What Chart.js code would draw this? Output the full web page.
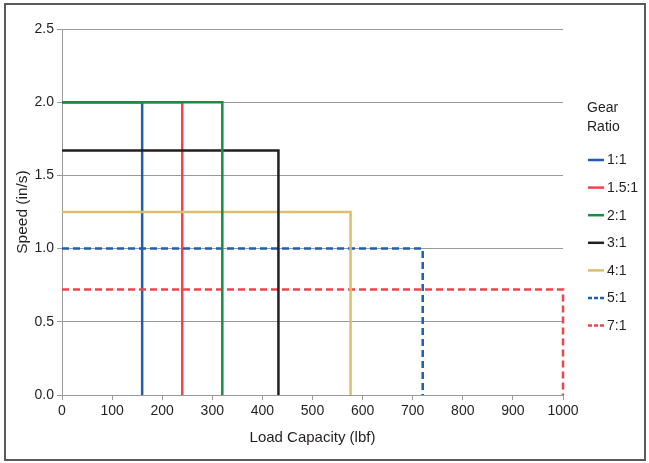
<!DOCTYPE html>
<html>
<head>
<meta charset="utf-8">
<script src="https://cdn.jsdelivr.net/npm/chart.js@4/dist/chart.umd.min.js"></script>
<style>
  html, body { margin: 0; padding: 0; background: #fff; }
  #wrap { position: relative; width: 649px; height: 463px; }
  #frame { position: absolute; left: 4px; top: 3px; width: 638px; height: 454px; border: 2px solid #5a5a5a; pointer-events: none; }
  canvas { position: absolute; left: 0; top: 0; }
</style>
</head>
<body>
<div id="wrap">
  <canvas id="c" width="649" height="463"></canvas>
  <div id="frame"></div>
</div>
<script>
// ---- data ----
const gearRatios = ['1:1', '1.5:1', '2:1', '3:1', '4:1', '5:1', '7:1'];
const maxLoad    = [160, 240, 320, 432, 576, 720, 1000];   // lbf
const maxSpeed   = [2.0, 2.0, 2.0, 1.67, 1.25, 1.0, 0.72]; // in/s
const xTicks     = [0, 100, 200, 300, 400, 500, 600, 700, 800, 900, 1000];
const yTicks     = [0.0, 0.5, 1.0, 1.5, 2.0, 2.5];

// ---- styles ----
const colors  = ['#1f5fae', '#f2434d', '#1b8b46', '#231f20', '#dcbf6c', '#1f5fae', '#f2434d'];
const dashed  = [false, false, false, false, false, true, true];
const orders  = [2, 1, 0, 0, 0, 0, 0];
const FONT = '"Liberation Sans", Arial, sans-serif';

const datasets = gearRatios.map((label, i) => ({
  label,
  data: [
    { x: 0, y: maxSpeed[i] },
    { x: maxLoad[i], y: maxSpeed[i] },
    { x: maxLoad[i], y: 0 }
  ],
  borderColor: colors[i],
  backgroundColor: colors[i],
  borderWidth: 2.5,
  borderDash: dashed[i] ? [7, 4] : [],
  borderJoinStyle: 'miter',
  borderCapStyle: 'butt',
  pointRadius: 0,
  fill: false,
  tension: 0,
  clip: false,
  order: orders[i]
}));

const legendPlugin = {
  id: 'sideLegend',
  afterDraw(chart) {
    const ctx = chart.ctx;
    const x0 = chart.chartArea.right + 25;
    ctx.save();
    ctx.font = '14px ' + FONT;
    ctx.fillStyle = '#231f20';
    ctx.textBaseline = 'middle';
    ctx.textAlign = 'left';
    ctx.fillText('Gear', x0 - 1, 108);
    ctx.fillText('Ratio', x0 - 1, 127);
    chart.data.datasets.forEach((ds, i) => {
      const y = 160 + i * 27.6;
      ctx.beginPath();
      ctx.strokeStyle = ds.borderColor;
      ctx.lineWidth = 2.5;
      ctx.setLineDash(ds.borderDash && ds.borderDash.length ? [4, 2] : []);
      ctx.moveTo(x0, y);
      ctx.lineTo(x0 + 16, y);
      ctx.stroke();
      ctx.setLineDash([]);
      ctx.fillText(ds.label, x0 + 19, y + 0.5);
    });
    ctx.restore();
  }
};

new Chart(document.getElementById('c'), {
  type: 'line',
  data: { datasets },
  plugins: [legendPlugin],
  options: {
    responsive: false,
    animation: false,
    devicePixelRatio: 1,
    layout: { padding: { top: 29, right: 86, left: 0, bottom: 0 } },
    plugins: { legend: { display: false }, tooltip: { enabled: false } },
    scales: {
      x: {
        type: 'linear',
        min: xTicks[0],
        max: xTicks[xTicks.length - 1],
        afterFit(s) { s.height = 68; },
        afterBuildTicks(s) { s.ticks = xTicks.map(v => ({ value: v })); },
        ticks: { color: '#231f20', font: { family: FONT, size: 14 }, padding: 3, maxRotation: 0, callback: v => String(v) },
        grid: { drawOnChartArea: false, drawTicks: true, tickLength: 5, color: '#9a9a9a' },
        border: { display: true, color: '#9a9a9a', width: 1 },
        title: { display: true, text: 'Load Capacity (lbf)', color: '#231f20', font: { family: FONT, size: 15 }, padding: { top: 0, bottom: 16 } }
      },
      y: {
        type: 'linear',
        min: yTicks[0],
        max: yTicks[yTicks.length - 1],
        afterFit(s) { s.width = 62; },
        afterBuildTicks(s) { s.ticks = yTicks.map(v => ({ value: v })); },
        ticks: { color: '#231f20', font: { family: FONT, size: 14 }, padding: 3, callback: v => Number(v).toFixed(1) },
        grid: { drawOnChartArea: true, drawTicks: true, tickLength: 5, color: '#9a9a9a' },
        border: { display: true, color: '#9a9a9a', width: 1 },
        title: { display: true, text: 'Speed (in/s)', color: '#231f20', font: { family: FONT, size: 15.5 }, padding: { top: 13, bottom: 0 } }
      }
    }
  }
});
</script>
</body>
</html>
